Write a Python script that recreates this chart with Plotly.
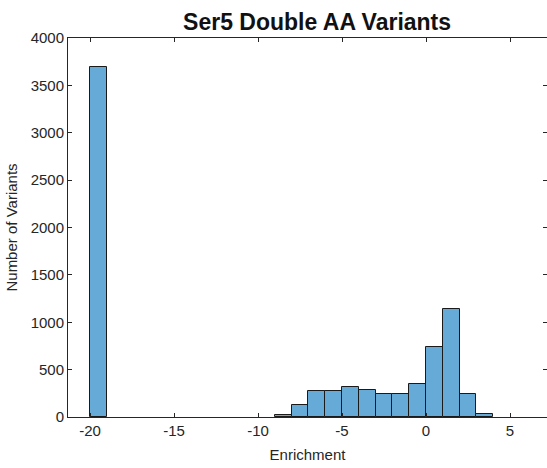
import plotly.graph_objects as go

# Histogram bins (left edges, width 1) and counts
bin_left = [-20, -9, -8, -7, -6, -5, -4, -3, -2, -1, 0, 1, 2, 3]
counts = [3690, 21, 124, 272, 272, 315, 286, 247, 247, 353, 734, 1141, 247, 32]
bin_width = 1

x_ticks = [-20, -15, -10, -5, 0, 5, 10]
x_tick_text = ["-20", "-15", "-10", "-5", "0", "5", "10"]
y_ticks = [0, 500, 1000, 1500, 2000, 2500, 3000, 3500, 4000]

centers = [b + bin_width / 2 for b in bin_left]

axis_col = "#262626"
font_family = "Liberation Sans, Arial, sans-serif"
y_range = [0, 4000]

fig = go.Figure(
    go.Bar(
        x=centers,
        y=counts,
        width=[bin_width] * len(centers),
        marker=dict(color="#66AAD7", line=dict(color="#1a1a1a", width=1)),
        showlegend=False,
    )
)

fig.update_layout(
    width=547,
    height=468,
    margin=dict(l=68, r=0, t=38, b=51),
    paper_bgcolor="white",
    plot_bgcolor="white",
    font=dict(family=font_family, size=15, color=axis_col),
    title=dict(
        text="<b>Ser5 Double AA Variants</b>",
        font=dict(family=font_family, size=23, color="#111111"),
        x=0.52,
        xref="paper",
        xanchor="center",
        y=1 - 22 / 468,
        yref="container",
        yanchor="middle",
    ),
    bargap=0,
    xaxis=dict(
        range=[-21.31, 7.2],
        tickvals=x_ticks,
        ticktext=x_tick_text,
        ticks="inside",
        ticklen=4,
        tickcolor=axis_col,
        showline=True,
        linecolor=axis_col,
        linewidth=1,
        mirror="ticks",
        showgrid=False,
        zeroline=False,
        tickfont=dict(size=15, color=axis_col),
        title=dict(text="Enrichment", font=dict(size=15, color=axis_col), standoff=11),
    ),
    yaxis=dict(
        range=y_range,
        tickvals=y_ticks,
        ticks="inside",
        ticklen=4,
        tickcolor=axis_col,
        showline=True,
        linecolor=axis_col,
        linewidth=1,
        mirror=False,
        showgrid=False,
        zeroline=False,
        tickfont=dict(size=15, color=axis_col),
        title=dict(text="Number of Variants", font=dict(size=15, color=axis_col), standoff=9),
    ),
    yaxis2=dict(
        range=y_range,
        overlaying="y",
        side="right",
        tickvals=y_ticks,
        ticks="inside",
        ticklen=4,
        tickcolor=axis_col,
        showticklabels=False,
        showline=False,
        showgrid=False,
        zeroline=False,
    ),
)

# invisible trace to activate the right-side tick axis
fig.add_trace(go.Scatter(x=[None], y=[None], yaxis="y2", showlegend=False, hoverinfo="skip"))

fig.write_html("out.html")
